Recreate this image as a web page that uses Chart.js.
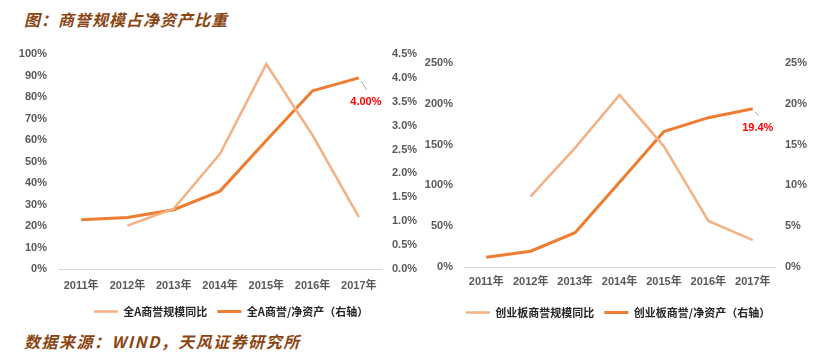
<!DOCTYPE html>
<html>
<head>
<meta charset="utf-8">
<script src="https://cdn.jsdelivr.net/npm/chart.js@4.4.0/dist/chart.umd.min.js"></script>
<style>
  body { margin: 0; width: 832px; height: 363px; background: #fff; position: relative; overflow: hidden; }
  .note { position: absolute; left: 24px; color: #8b4513; font-style: italic; font-weight: bold;
          font-family: "Noto Sans CJK SC", sans-serif; font-size: 16px; letter-spacing: 1px; white-space: nowrap; }
  #title { top: 7px; }
  #source { top: 329px; letter-spacing: 1.5px; }
  canvas { position: absolute; top: 0; }
</style>
</head>
<body>
<div id="title" class="note">图：商誉规模占净资产比重</div>
<canvas id="left" width="462" height="327" style="left:0"></canvas>
<canvas id="right" width="428" height="328" style="left:404px"></canvas>
<div id="source" class="note">数据来源：WIND，天风证券研究所</div>
<script>
// 年份
var years = ['2011年', '2012年', '2013年', '2014年', '2015年', '2016年', '2017年'];
// 全A
var allGrowth = [null, 20.2, 28.0, 53.6, 95.3, 62.2, 24.1];
var allRatio = [1.03, 1.08, 1.24, 1.63, 2.69, 3.73, 4.00];
// 创业板
var gemGrowth = [null, 86.5, 146, 210.9, 147.9, 56.4, 33.0];
var gemRatio = [1.19, 1.94, 4.2, 10.4, 16.6, 18.3, 19.4];

var tickFont = { family: "'Liberation Sans Narrow', 'Liberation Sans', 'Noto Sans CJK SC'", size: 11, weight: 'bold' };
var light = '#f4b183';
var dark = '#ed7d31';

// red label on the last point of the right-axis series
var endLabel = {
  id: 'endLabel',
  afterDatasetsDraw: function(chart, args, opts) {
    var meta = chart.getDatasetMeta(1);
    var i = meta.data.length - 1;
    var pt = meta.data[i];
    var v = chart.data.datasets[1].data[i];
    var ctx = chart.ctx;
    ctx.save();
    ctx.strokeStyle = '#a6a6a6';
    ctx.lineWidth = 1;
    ctx.beginPath();
    ctx.moveTo(pt.x + 2, pt.y + 3);
    ctx.lineTo(pt.x + opts.dx + 1, pt.y + opts.dy - 12);
    ctx.stroke();
    ctx.fillStyle = '#ff0000';
    ctx.font = "bold 11px 'Liberation Sans Narrow', 'Liberation Sans'";
    ctx.textAlign = 'center';
    ctx.textBaseline = 'middle';
    ctx.fillText(v.toFixed(opts.digits) + '%', pt.x + opts.dx, pt.y + opts.dy);
    ctx.restore();
  }
};

function makeChart(id, growth, ratio, names, o) {
  return new Chart(document.getElementById(id), {
    type: 'line',
    plugins: [endLabel],
    data: {
      labels: years,
      datasets: [{
        label: names[0],
        data: growth,
        borderColor: light,
        backgroundColor: light,
        borderWidth: 2.5,
        pointRadius: 0,
        yAxisID: 'y'
      }, {
        label: names[1],
        data: ratio,
        borderColor: dark,
        backgroundColor: dark,
        borderWidth: 3,
        pointRadius: 0,
        yAxisID: 'y2'
      }]
    },
    options: {
      responsive: false,
      animation: false,
      layout: { padding: { left: 0, right: 0, top: o.top, bottom: 0 } },
      plugins: {
        tooltip: { enabled: false },
        endLabel: o.label,
        legend: {
          position: 'bottom',
          labels: {
            usePointStyle: true,
            pointStyle: 'line',
            pointStyleWidth: 24,
            padding: 10,
            color: '#262626',
            font: { family: "'Noto Sans CJK SC'", size: 11, weight: 'bold' }
          }
        }
      },
      scales: {
        x: {
          offset: true,
          grid: { display: false },
          border: { color: '#d9d9d9', width: 1 },
          ticks: { color: '#595959', font: tickFont, padding: o.xPad, maxRotation: 0 },
          afterFit: function(s) { s.height = o.xHeight; }
        },
        y: {
          position: 'left',
          min: 0, max: o.max1,
          grid: { display: false, drawTicks: false },
          border: { display: false },
          ticks: { stepSize: o.step1, padding: 11, color: '#595959', font: tickFont,
                   callback: function(v) { return v + '%'; } },
          afterFit: function(s) { s.width = o.w1; }
        },
        y2: {
          position: 'right',
          min: 0, max: o.max2,
          grid: { display: false, drawTicks: false },
          border: { display: false },
          ticks: { stepSize: o.step2, padding: 10, color: '#595959', font: tickFont,
                   callback: function(v) { return v.toFixed(o.dec2) + '%'; } },
          afterFit: function(s) { s.width = o.w2; }
        }
      }
    }
  });
}

makeChart('left', allGrowth, allRatio, ['全A商誉规模同比', '全A商誉/净资产（右轴）'], {
  top: 54, w1: 58, w2: 80, xHeight: 27, xPad: 2,
  max1: 100, step1: 10, max2: 4.5, step2: 0.5, dec2: 1,
  label: { dx: 7, dy: 24, digits: 2 }
});

makeChart('right', gemGrowth, gemRatio, ['创业板商誉规模同比', '创业板商誉/净资产（右轴）'], {
  top: 63, w1: 60, w2: 57, xHeight: 30, xPad: 0,
  max1: 250, step1: 50, max2: 25, step2: 5, dec2: 0,
  label: { dx: 5, dy: 19, digits: 1 }
});
</script>
</body>
</html>
